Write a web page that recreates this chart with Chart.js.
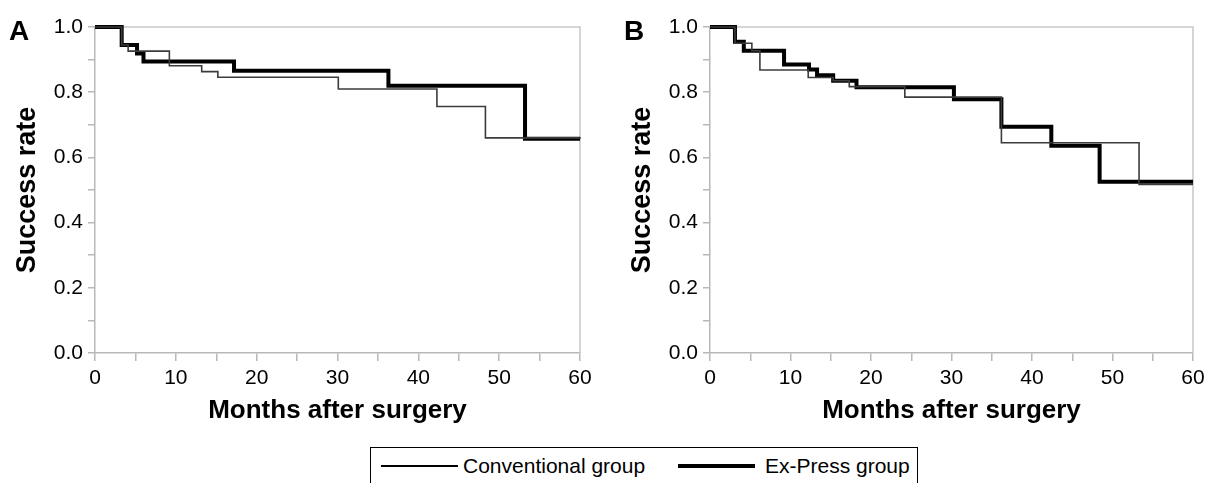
<!DOCTYPE html>
<html>
<head>
<meta charset="utf-8">
<script src="https://cdn.jsdelivr.net/npm/chart.js@4.4.1/dist/chart.umd.min.js"></script>
<style>
    body { margin: 0; background: #fff; width: 1214px; height: 483px; overflow: hidden; position: relative; font-family: "Liberation Sans", Arial, sans-serif; }
    canvas { position: absolute; top: 0; }
    #chartA { left: 0; }
    #chartB { left: 615px; }
    .panel { position: absolute; font-weight: bold; font-size: 28px; color: #000; }
    #legend { position: absolute; left: 370px; top: 447px; width: 548px; height: 60px; border: 1px solid #000; box-sizing: border-box; font-size: 21px; color: #000; }
    .sample { position: absolute; background: #000; }
    .lbl { position: absolute; top: 6px; white-space: nowrap; }
</style>
</head>
<body>
<canvas id="chartA" width="605" height="440"></canvas>
<canvas id="chartB" width="603" height="440"></canvas>
<div class="panel" style="left:9px; top:15px;">A</div>
<div class="panel" style="left:624px; top:15px;">B</div>
<div id="legend">
    <div class="sample" style="left:10px; top:17px; width:77px; height:1.5px;"></div>
    <div class="lbl" style="left:92px;">Conventional group</div>
    <div class="sample" style="left:307px; top:16px; width:77px; height:4px;"></div>
    <div class="lbl" style="left:394px;">Ex-Press group</div>
</div>
<script>
document.addEventListener("DOMContentLoaded", function () {
    Chart.defaults.font.family = "'Liberation Sans', Arial, sans-serif";
    Chart.defaults.color = "#000";

    // Panel A - mesi e tassi di successo
    const convA_months = [0, 3.3, 4.1, 9.2, 13.2, 15.2, 30.1, 42.3, 48.3, 60];
    const convA_rate   = [1.0, 0.945, 0.926, 0.881, 0.863, 0.846, 0.810, 0.756, 0.660, 0.657];
    const expA_months  = [0, 3.3, 5.2, 6.0, 17.2, 36.3, 53.2, 60];
    const expA_rate    = [1.0, 0.945, 0.919, 0.894, 0.866, 0.820, 0.657, 0.657];

    // Panel B
    const convB_months = [0, 3.1, 5.2, 6.2, 12.2, 15.3, 17.3, 24.2, 36.2, 53.3, 60];
    const convB_rate   = [1.0, 0.950, 0.927, 0.868, 0.845, 0.835, 0.817, 0.785, 0.645, 0.517, 0.517];
    const expB_months  = [0, 3.1, 4.2, 9.2, 12.3, 13.3, 15.3, 18.2, 30.3, 36.2, 42.4, 48.4, 60];
    const expB_rate    = [1.0, 0.955, 0.927, 0.885, 0.870, 0.852, 0.835, 0.815, 0.778, 0.694, 0.636, 0.525, 0.525];

    const xTicks = [0, 10, 20, 30, 40, 50, 60];
    const yTicks = [0.0, 0.2, 0.4, 0.6, 0.8, 1.0];

    const axisGray = "#b8b8b8";

    function punti(mesi, tassi) {
        return mesi.map((m, i) => ({ x: m, y: tassi[i] }));
    }

    // cornice grigia sopra e a destra
    const cornice = {
        id: "cornice",
        beforeDatasetsDraw(chart) {
            const a = chart.chartArea;
            const ctx = chart.ctx;
            ctx.save();
            ctx.strokeStyle = "#c8c8c8";
            ctx.lineWidth = 1.5;
            ctx.beginPath();
            ctx.moveTo(a.left, a.top);
            ctx.lineTo(a.right, a.top);
            ctx.lineTo(a.right, a.bottom);
            ctx.stroke();
            ctx.restore();
        }
    };

    function creaGrafico(id, conv, exp) {
        return new Chart(document.getElementById(id), {
            type: "line",
            data: {
                datasets: [{
                    label: "Conventional group",
                    data: conv,
                    borderColor: "#3c3c3c",
                    borderWidth: 1.6,
                    stepped: "before",
                    pointRadius: 0,
                    fill: false,
                    clip: false
                }, {
                    label: "Ex-Press group",
                    data: exp,
                    borderColor: "#000",
                    borderWidth: 4,
                    stepped: "before",
                    pointRadius: 0,
                    fill: false,
                    clip: false
                }]
            },
            options: {
                responsive: false,
                animation: false,
                layout: { padding: { left: 10, right: 25, top: 27, bottom: 12 } },
                plugins: { legend: { display: false }, tooltip: { enabled: false } },
                scales: {
                    x: {
                        type: "linear",
                        min: 0,
                        max: 60,
                        ticks: {
                            stepSize: 5,
                            autoSkip: false,
                            maxRotation: 0,
                            padding: 5,
                            font: { size: 21 },
                            callback: v => xTicks.includes(v) ? String(v) : ""
                        },
                        grid: { drawOnChartArea: false, tickLength: 8, color: axisGray, lineWidth: 1.5 },
                        border: { color: axisGray, width: 1.5 },
                        title: {
                            display: true,
                            text: "Months after surgery",
                            font: { size: 26, weight: "bold" },
                            padding: { top: 2, bottom: 2 }
                        },
                        afterFit(s) { s.height = 75; }
                    },
                    y: {
                        min: 0,
                        max: 1,
                        ticks: {
                            stepSize: 0.1,
                            autoSkip: false,
                            padding: 5,
                            font: { size: 21 },
                            callback: v => {
                                const r = Math.round(v * 10) / 10;
                                return yTicks.includes(r) ? r.toFixed(1) : "";
                            }
                        },
                        grid: { drawOnChartArea: false, tickLength: 7, color: axisGray, lineWidth: 1.5 },
                        border: { color: axisGray, width: 1.5 },
                        title: {
                            display: true,
                            text: "Success rate",
                            font: { size: 27, weight: "bold" },
                            padding: { top: 1, bottom: 2 }
                        },
                        afterFit(s) { s.width = 85; }
                    }
                }
            },
            plugins: [cornice]
        });
    }

    creaGrafico("chartA", punti(convA_months, convA_rate), punti(expA_months, expA_rate));
    creaGrafico("chartB", punti(convB_months, convB_rate), punti(expB_months, expB_rate));
});
</script>
</body>
</html>
